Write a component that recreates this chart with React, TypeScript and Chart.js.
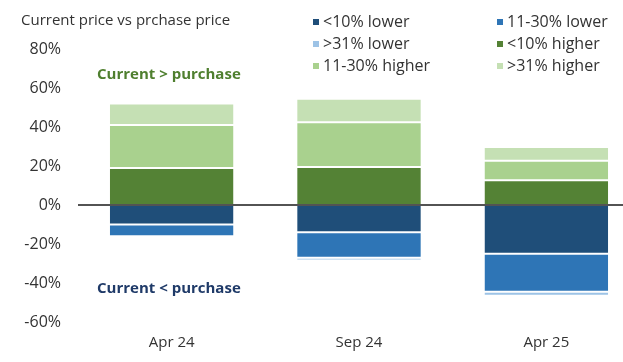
import React, { useEffect, useRef } from "react";
import { Chart, registerables } from "chart.js";

Chart.register(...registerables);

const categories = ["Apr 24", "Sep 24", "Apr 25"];
const lt10Lower = [-10, -14, -25];
const mid30Lower = [-6, -13, -19.5];
const gt31Lower = [-1, -1.5, -2];
const lt10Higher = [19, 19.5, 12.7];
const mid30Higher = [22, 23, 10];
const gt31Higher = [11, 12, 7];
const yTicks = [80, 60, 40, 20, 0, -20, -40, -60];

const seriesNames = ["<10% lower", "11-30% lower", ">31% lower", "<10% higher", "11-30% higher", ">31% higher"];
const seriesColors = ["#1f4e79", "#2e75b6", "#9dc3e6", "#548235", "#a9d18e", "#c5e0b4"];

const titleText = "Current price vs prchase price";
const upLabel = "Current > purchase";
const downLabel = "Current < purchase";

const FONT = "'Open Sans', 'Noto Sans', sans-serif";

const overlay = {
  id: "overlay",
  afterDatasetsDraw(chart: any) {
    const { ctx, chartArea, scales } = chart;
    const y0 = scales.y.getPixelForValue(0);
    ctx.save();
    ctx.strokeStyle = "#1a1a1a";
    ctx.lineWidth = 1.5;
    ctx.beginPath();
    ctx.moveTo(chartArea.left, y0);
    ctx.lineTo(chart.width, y0);
    ctx.stroke();
    ctx.restore();
  },
  afterDraw(chart: any) {
    const { ctx } = chart;
    ctx.save();
    ctx.textBaseline = "middle";
    ctx.textAlign = "left";
    ctx.fillStyle = "#333333";
    ctx.font = `15px ${FONT}`;
    ctx.fillText(titleText, 21, 21);

    const cols = [313, 497];
    const rows = [22, 44, 66];
    seriesNames.forEach((name, i) => {
      const c = cols[i % 2];
      const r = rows[Math.floor(i / 2)];
      ctx.fillStyle = seriesColors[i];
      ctx.fillRect(c, r - 3, 6, 6);
      ctx.fillStyle = "#333333";
      ctx.font = `16px ${FONT}`;
      ctx.fillText(name, c + 10, r);
    });

    ctx.font = `bold 15px ${FONT}`;
    ctx.fillStyle = "#4f7f2f";
    ctx.fillText(upLabel, 97, 75);
    ctx.fillStyle = "#1f3a68";
    ctx.fillText(downLabel, 97, 289);
    ctx.restore();
  },
};

export default function App() {
  const ref = useRef<HTMLCanvasElement>(null);
  useEffect(() => {
    document.body.style.margin = "0";
    const seriesData = [lt10Lower, mid30Lower, gt31Lower, lt10Higher, mid30Higher, gt31Higher];
    const chart = new Chart(ref.current!, {
      type: "bar",
      data: {
        labels: categories,
        datasets: seriesData.map((d, i) => ({
          label: seriesNames[i],
          data: d,
          backgroundColor: seriesColors[i],
          borderColor: "#ffffff",
          borderWidth: { top: 1, bottom: 1, left: 0, right: 0 },
          borderSkipped: false,
          categoryPercentage: 1,
          barPercentage: 0.66,
        })),
      },
      options: {
        animation: false,
        responsive: false,
        maintainAspectRatio: false,
        layout: { padding: { top: 49, right: 0, left: 0, bottom: 0 } },
        plugins: { legend: { display: false }, tooltip: { enabled: false }, title: { display: false } },
        scales: {
          x: {
            stacked: true,
            grid: { display: false },
            border: { display: false },
            ticks: { color: "#333333", font: { family: FONT, size: 15 }, padding: 4 },
            afterFit: (s: any) => { s.height = 40; },
          },
          y: {
            stacked: true,
            min: -60,
            max: 80,
            grid: { display: false },
            border: { display: false },
            afterBuildTicks: (s: any) => { s.ticks = yTicks.map((v) => ({ value: v })); },
            ticks: {
              color: "#333333",
              font: { family: FONT, size: 16 },
              padding: 9,
              callback: (v: any) => `${v}%`,
            },
            afterFit: (s: any) => { s.width = 78; },
          },
        },
      },
      plugins: [overlay],
    });
    return () => chart.destroy();
  }, []);
  return (
    <div style={{ width: 623, height: 362, overflow: "hidden" }}>
      <canvas ref={ref} width={640} height={362} style={{ width: 640, height: 362, display: "block" }} />
    </div>
  );
}
